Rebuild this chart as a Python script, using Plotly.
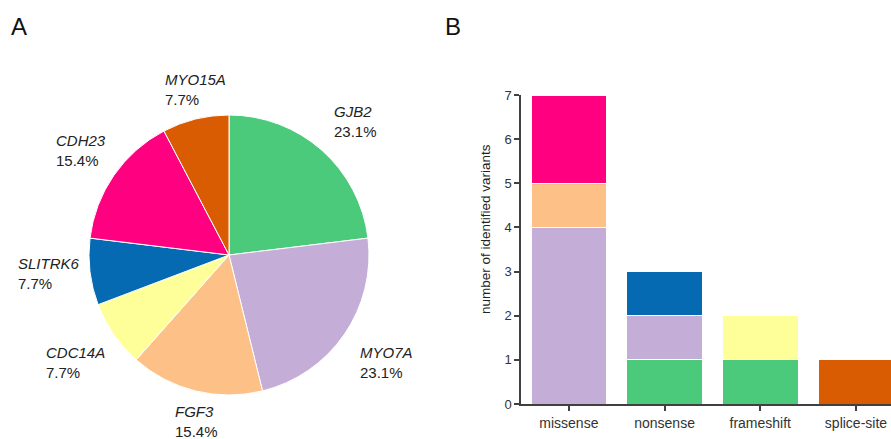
import plotly.graph_objects as go

W, H = 891, 439

# Panel A: genes and number of cases
genes = ["GJB2", "MYO7A", "FGF3", "CDC14A", "SLITRK6", "CDH23", "MYO15A"]
gene_cases = [3, 3, 2, 1, 1, 2, 1]
gene_colors = ["#4BCA7C", "#C4AED7", "#FDC086", "#FFFF99", "#056AB2", "#FF0080", "#DA5C02"]

# Panel B: variant types and counts per gene
variant_types = ["missense", "nonsense", "frameshift", "splice-site"]
variant_counts = {
    "GJB2":    [0, 1, 1, 0],
    "MYO7A":   [4, 1, 0, 0],
    "FGF3":    [1, 0, 0, 0],
    "CDC14A":  [0, 0, 1, 0],
    "SLITRK6": [0, 1, 0, 0],
    "CDH23":   [2, 0, 0, 0],
    "MYO15A":  [0, 0, 0, 1],
}
y_ticks = [0, 1, 2, 3, 4, 5, 6, 7]

# label positions for the pie (pixel coords: left x, vertical centre y)
label_pos = {
    "GJB2": (332, 122), "MYO7A": (358, 362), "FGF3": (173, 421),
    "CDC14A": (44, 362), "SLITRK6": (16, 273), "CDH23": (54, 150),
    "MYO15A": (163, 89),
}

FONT = "Liberation Sans, Arial"


def px_x(x):
    return x / W


def px_y(y):
    return 1 - y / H


fig = go.Figure()

# pie: centre (229, 255), radius 140
cx, cy, r = 229, 255, 140
fig.add_trace(go.Pie(
    labels=genes, values=gene_cases, sort=False, direction="clockwise", rotation=0,
    marker=dict(colors=gene_colors, line=dict(color="white", width=1)),
    textinfo="none", hoverinfo="label+percent", showlegend=False,
    domain=dict(x=[px_x(cx - r), px_x(cx + r)], y=[px_y(cy + r), px_y(cy - r)]),
))

total = sum(gene_cases)
annotations = []
for g, v in zip(genes, gene_cases):
    lx, ly = label_pos[g]
    annotations.append(dict(
        x=px_x(lx), y=px_y(ly), xref="paper", yref="paper",
        xanchor="left", yanchor="middle", align="left", showarrow=False,
        text=f"<i>{g}</i><br>{100 * v / total:.1f}%",
        font=dict(family=FONT, size=15, color="#222222"),
    ))

# stacked bars
for g, c in zip(genes, gene_colors):
    vals = [v if v else None for v in variant_counts[g]]
    fig.add_trace(go.Bar(
        x=variant_types, y=vals, name=g, showlegend=False,
        marker=dict(color=c, line=dict(color="white", width=1)),
        xaxis="x", yaxis="y",
    ))

for txt, x in [("A", 18.5), ("B", 453)]:
    annotations.append(dict(
        x=px_x(x), y=px_y(26), xref="paper", yref="paper", xanchor="center",
        yanchor="middle", showarrow=False, text=txt,
        font=dict(family=FONT, size=24, color="#111111"),
    ))

# y-axis title
annotations.append(dict(
    x=px_x(485), y=px_y(229), xref="paper", yref="paper", xanchor="center",
    yanchor="middle", showarrow=False, textangle=-90,
    text="number of identified variants",
    font=dict(family=FONT, size=13.5, color="#222222"),
))

axis_col = "#404040"
fig.update_layout(
    width=W, height=H, margin=dict(l=0, r=0, t=0, b=0, autoexpand=False),
    paper_bgcolor="white", plot_bgcolor="white",
    barmode="stack", bargap=0.21,
    font=dict(family=FONT, color="#333333"),
    annotations=annotations,
    xaxis=dict(
        domain=[px_x(521), 1], range=[-0.5, 3.366], type="category",
        showline=True, linecolor=axis_col, linewidth=1.5,
        ticks="outside", ticklen=5, tickcolor=axis_col, tickwidth=1.5,
        tickfont=dict(size=14, color="#333333"), showgrid=False, zeroline=False,
        automargin=False, fixedrange=True,
    ),
    yaxis=dict(
        domain=[px_y(404), px_y(95)], range=[0, 7],
        tickvals=y_ticks, showline=True, linecolor=axis_col, linewidth=1.5,
        ticks="outside", ticklen=5, tickcolor=axis_col, tickwidth=1.5,
        tickfont=dict(size=13, color="#333333"), showgrid=False, zeroline=False,
        automargin=False, fixedrange=True,
    ),
)

fig.write_html("out.html")
